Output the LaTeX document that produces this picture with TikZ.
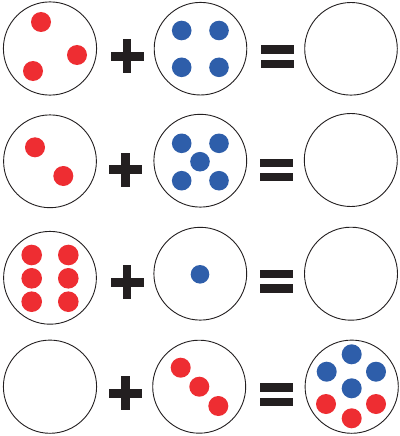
\documentclass[tikz,border=0pt]{standalone}
\definecolor{dotred}{HTML}{EE2D32}
\definecolor{dotblue}{HTML}{2E5EAA}
\definecolor{symb}{HTML}{231F20}
\tikzset{
  ring/.style={draw=symb,line width=0.9pt,fill=white},
  rdot/.style={fill=dotred},
  bdot/.style={fill=dotblue},
  plussign/.pic={\fill[symb] (-16.5,-4.5) rectangle (16.5,4.5); \fill[symb] (-4.2,-17) rectangle (4.2,17);},
  eqsign/.pic={\fill[symb] (-16.5,-11.2) rectangle (16.5,-3); \fill[symb] (-16.5,3) rectangle (16.5,11.2);}
}
\begin{document}
\begin{tikzpicture}[x=1pt,y=-1pt]
\useasboundingbox (0,0) rectangle (399,436);
% row 1
\draw[ring] (50,48.5) circle (46.6);
\draw[ring] (200.5,48.7) circle (46.3);
\draw[ring] (351,48.8) circle (46.3);
\fill[rdot] (41,22) circle (10);
\fill[rdot] (77,55) circle (10);
\fill[rdot] (33,71) circle (10);
\fill[bdot] (181.7,30.5) circle (9.8);
\fill[bdot] (219,30.5) circle (9.8);
\fill[bdot] (181.7,67.3) circle (9.8);
\fill[bdot] (219,67.3) circle (9.8);
\pic at (127,56.3) {plussign};
\pic at (277.5,56.7) {eqsign};
% row 2
\draw[ring] (50,161.3) circle (46.4);
\draw[ring] (200.3,160.7) circle (46.4);
\draw[ring] (350.8,160) circle (46.5);
\fill[rdot] (35,147.3) circle (10);
\fill[rdot] (63.3,176) circle (10);
\fill[bdot] (181.7,143.3) circle (9.8);
\fill[bdot] (219,143.3) circle (9.8);
\fill[bdot] (200,161.7) circle (9.8);
\fill[bdot] (181.7,180.7) circle (9.8);
\fill[bdot] (219,180.7) circle (9.8);
\pic at (125.5,169.5) {plussign};
\pic at (276.5,169.7) {eqsign};
% row 3
\draw[ring] (50,277.8) circle (46.4);
\draw[ring] (200.3,273.7) circle (46.4);
\draw[ring] (351,273.7) circle (46.5);
\fill[rdot] (31.7,255) circle (10.3);
\fill[rdot] (68.3,255) circle (10.3);
\fill[rdot] (31.7,278.3) circle (10.3);
\fill[rdot] (68.3,278.3) circle (10.3);
\fill[rdot] (31.7,301.7) circle (10.3);
\fill[rdot] (68.3,301.7) circle (10.3);
\fill[bdot] (200,274.3) circle (9.3);
\pic at (127,282) {plussign};
\pic at (276.5,281.3) {eqsign};
% row 4
\draw[ring] (50,386.7) circle (46.6);
\draw[ring] (199.2,386.7) circle (46.5);
\draw[ring] (351.7,386.7) circle (46.6);
\fill[rdot] (180.7,367.7) circle (10);
\fill[rdot] (199.3,386.7) circle (10);
\fill[rdot] (218.3,406) circle (10);
\fill[bdot] (351.7,354.3) circle (10);
\fill[bdot] (326.7,371.7) circle (10);
\fill[bdot] (376,371.7) circle (10);
\fill[bdot] (351.7,388.3) circle (10);
\fill[rdot] (326,404) circle (10);
\fill[rdot] (376,404) circle (10);
\fill[rdot] (351.7,418.3) circle (10);
\pic at (125.5,393) {plussign};
\pic at (276.5,394.5) {eqsign};
\end{tikzpicture}
\end{document}
